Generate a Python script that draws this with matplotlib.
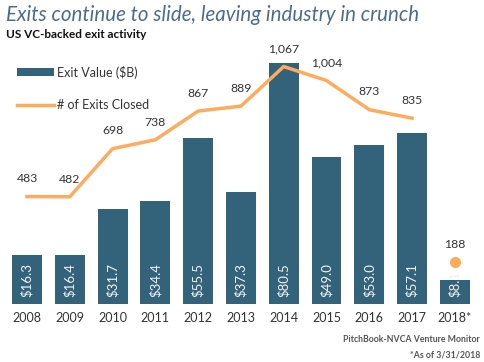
import numpy as np
import matplotlib
matplotlib.use('Agg')
import matplotlib.pyplot as plt

plt.rcParams['font.family'] = ['Lato', 'DejaVu Sans']

# Data
years = ['2008', '2009', '2010', '2011', '2012', '2013', '2014', '2015', '2016', '2017', '2018*']
exit_value = [16.3, 16.4, 31.7, 34.4, 55.5, 37.3, 80.5, 49.0, 53.0, 57.1, 8.1]
exit_count = [483, 482, 698, 738, 867, 889, 1067, 1004, 873, 835]
partial_count = 188

bar_color = '#33637b'
line_color = '#ffab5e'
text_color = '#333333'

fig = plt.figure(figsize=(4.85, 3.62), dpi=100)
ax = fig.add_axes([0.0115, 0.160, 0.9705, 0.746])
ax2 = ax.twinx()

x = np.arange(len(years))
ax.bar(x, exit_value, width=0.7, color=bar_color, label='Exit Value ($B)', zorder=1)
for xi, v in zip(x, exit_value):
    ax.text(xi, 2.2, f'${v:.1f}', rotation=90, ha='center', va='bottom',
            color='#f2f2f2', fontsize=9.5, zorder=3)

ax2.plot(x[:len(exit_count)], exit_count, color=line_color, lw=2.5,
         label='# of Exits Closed', zorder=2)
ax2.plot(x[-1], partial_count, 'o', color=line_color, ms=7, zorder=2)
for xi, c in zip(x[:len(exit_count)], exit_count):
    ax2.text(xi, c + 55, f'{c:,}', ha='center', va='bottom', fontsize=8.8, color=text_color)
ax2.text(x[-1], partial_count + 55, f'{partial_count}', ha='center', va='bottom',
         fontsize=8.8, color=text_color)

ax.set_xlim(-0.5, len(years) - 0.5)
ax.set_ylim(0, 90)
ax2.set_ylim(0, 1213)

for a in (ax, ax2):
    for s in a.spines.values():
        s.set_visible(False)
    a.set_yticks([])
ax.set_xticks(x)
ax.set_xticklabels(years, fontsize=9, color=text_color)
ax.tick_params(axis='x', length=0, pad=6)

h1, l1 = ax.get_legend_handles_labels()
h2, l2 = ax2.get_legend_handles_labels()
leg = ax.legend(h1 + h2, l1 + l2, loc='upper left', bbox_to_anchor=(0.0, 0.925),
                frameon=False, fontsize=9, handlelength=3.0, handleheight=0.6,
                handletextpad=0.2, labelspacing=1.65)
for t in leg.get_texts():
    t.set_color(text_color)

fig.text(0.012, 0.958, 'Exits continue to slide, leaving industry in crunch',
         fontsize=14.8, style='italic', color='#4d6c8c', va='center')
fig.text(0.012, 0.905, 'US VC-backed exit activity', fontsize=8.5, fontweight='bold',
         color='#111111', va='center')
fig.text(0.99, 0.062, 'PitchBook-NVCA Venture Monitor', fontsize=6.3, fontweight='bold',
         color='#555555', ha='right', va='center')
fig.text(0.99, 0.020, '*As of 3/31/2018', fontsize=6.3, fontweight='bold',
         color='#555555', ha='right', va='center')

fig.savefig('out.png', dpi=100)
